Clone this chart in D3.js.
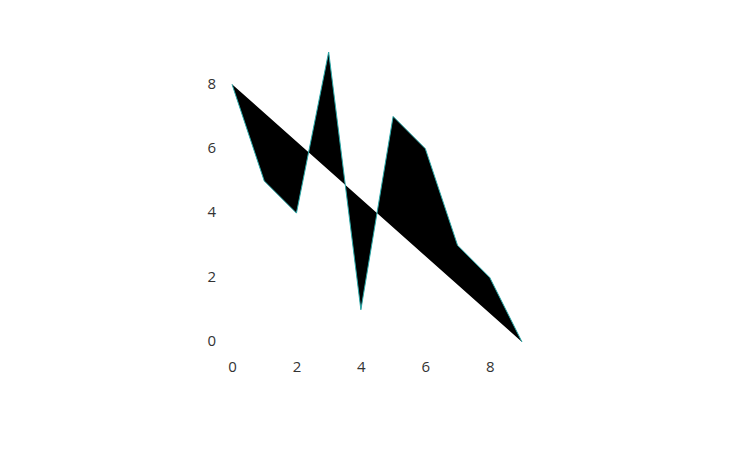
<!DOCTYPE html>
<html>
<head>
<meta charset="utf-8">
<script src="https://cdn.jsdelivr.net/npm/d3@7"></script>
<style>
  body { margin: 0; background: #fff; }
  svg text { font-family: "Open Sans", sans-serif; font-size: 15px; fill: #333; }
</style>
</head>
<body>
<svg id="chart" width="750" height="450"></svg>
<script>
// The data
const xValues = [0, 1, 2, 3, 4, 5, 6, 7, 8, 9];
const yValues = [8, 5, 4, 9, 1, 7, 6, 3, 2, 0];
const tickValues = [0, 2, 4, 6, 8];

const svg = d3.select("#chart");

// Scales
const x = d3.scaleLinear().domain([0, 9]).range([232, 522]);
const y = d3.scaleLinear().domain([0, 9]).range([342, 52]);

// Filled polyline
const line = d3.line()
	.x((d, i) => x(xValues[i]))
	.y((d) => y(d));

svg.append("path")
	.datum(yValues)
	.attr("d", line)
	.attr("fill", "#000")
	.attr("stroke", "#2aa7a7")
	.attr("stroke-width", 1);

// Axes, labels only
svg.append("g")
	.attr("transform", "translate(0, 358)")
	.call(d3.axisBottom(x).tickValues(tickValues).tickSize(0));

svg.append("g")
	.attr("transform", "translate(219, -1)")
	.call(d3.axisLeft(y).tickValues(tickValues).tickSize(0));

svg.selectAll(".domain").remove();
svg.selectAll(".tick text")
	.attr("font-family", null)
	.attr("font-size", null)
	.attr("fill", null);
</script>
</body>
</html>
